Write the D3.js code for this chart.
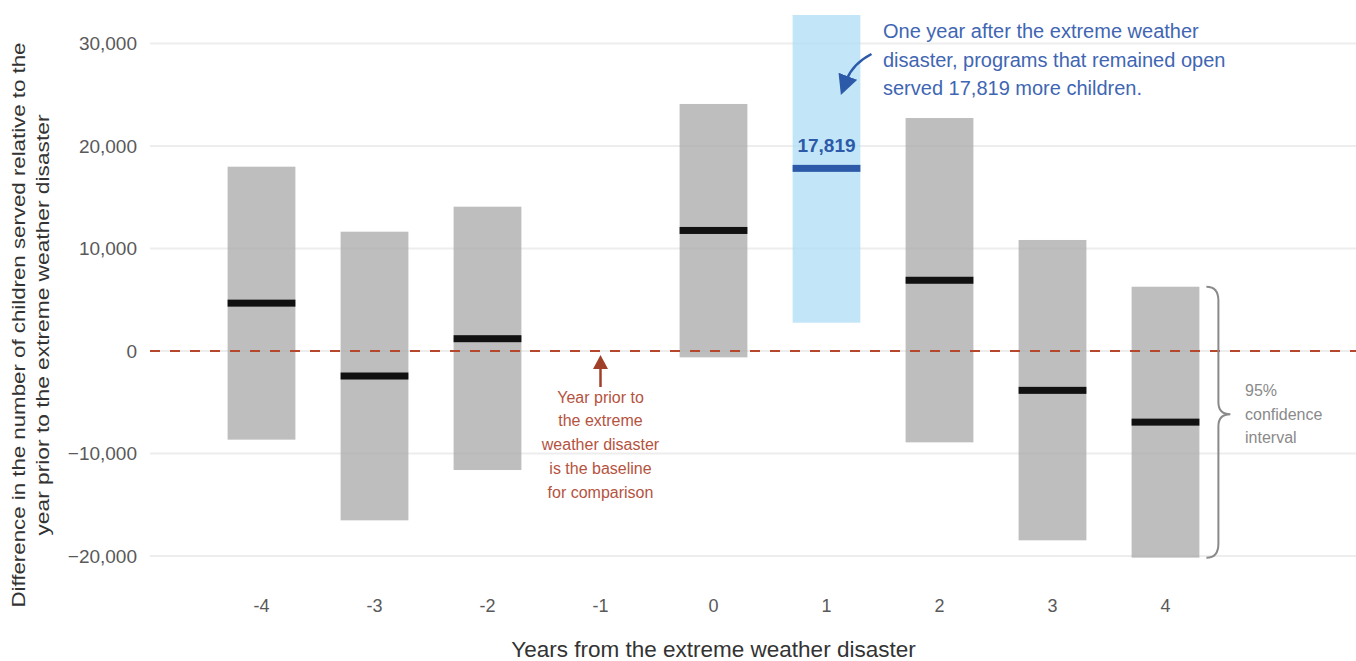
<!DOCTYPE html>
<html>
<head>
<meta charset="utf-8">
<script src="https://cdn.jsdelivr.net/npm/d3@7"></script>
<style>
  html, body { margin: 0; padding: 0; background: #fff; }
  svg { display: block; font-family: "Liberation Sans", Arial, sans-serif; }
</style>
</head>
<body>
<svg id="chart"></svg>
<script>
// Event-study estimates (children served vs. year prior to disaster)
const years = ['-4', '-3', '-2', '-1', '0', '1', '2', '3', '4'];
const estimates = [4670, -2440, 1200, null, 11760, 17819, 6900, -3840, -6940];
const lower = [-8650, -16520, -11610, null, -620, 2760, -8910, -18470, -20160];
const upper = [17980, 11640, 14080, null, 24100, 32780, 22730, 10830, 6270];
const yTicks = [-20000, -10000, 0, 10000, 20000, 30000];
const highlightYear = '1';

const width = 1356, height = 661;
const plotLeft = 150, plotRight = 1356;

const svg = d3.select('#chart')
  .attr('width', width)
  .attr('height', height)
  .attr('viewBox', `0 0 ${width} ${height}`);

const x = d3.scaleBand()
  .domain(years)
  .range([205, 1222])
  .paddingInner(0.4)
  .paddingOuter(0.2);

const y = d3.scaleLinear()
  .domain([-20000, 30000])
  .range([556, 43.5]);

const rows = years.map((yr, i) => ({
  year: yr, est: estimates[i], lo: lower[i], hi: upper[i]
})).filter(d => d.est !== null);

// gridlines
svg.append('g')
  .selectAll('line')
  .data(yTicks)
  .enter()
  .append('line')
  .attr('x1', plotLeft)
  .attr('x2', plotRight)
  .attr('y1', d => y(d))
  .attr('y2', d => y(d))
  .attr('stroke', '#ededed')
  .attr('stroke-width', 2);

// y tick labels
svg.append('g')
  .selectAll('text')
  .data(yTicks)
  .enter()
  .append('text')
  .attr('x', 137)
  .attr('y', d => y(d) + 6.5)
  .attr('text-anchor', 'end')
  .attr('font-size', 19)
  .attr('fill', '#595959')
  .text(d => d3.format(',')(d));

// x tick labels
svg.append('g')
  .selectAll('text')
  .data(years)
  .enter()
  .append('text')
  .attr('x', d => x(d) + x.bandwidth() / 2)
  .attr('y', 612)
  .attr('text-anchor', 'middle')
  .attr('font-size', 18)
  .attr('fill', '#595959')
  .text(d => d);

// confidence interval bars
svg.append('g')
  .selectAll('rect')
  .data(rows)
  .enter()
  .append('rect')
  .attr('x', d => x(d.year))
  .attr('width', x.bandwidth())
  .attr('y', d => y(d.hi))
  .attr('height', d => y(d.lo) - y(d.hi))
  .attr('fill', d => d.year === highlightYear ? 'rgb(173,222,245)' : '#a8a8a8')
  .attr('fill-opacity', 0.75);

// zero baseline
svg.append('line')
  .attr('x1', plotLeft)
  .attr('x2', plotRight)
  .attr('y1', y(0))
  .attr('y2', y(0))
  .attr('stroke', '#b5472d')
  .attr('stroke-width', 2.2)
  .attr('stroke-dasharray', '10,10');

// point estimates
svg.append('g')
  .selectAll('rect')
  .data(rows)
  .enter()
  .append('rect')
  .attr('x', d => x(d.year))
  .attr('width', x.bandwidth())
  .attr('y', d => y(d.est) - 3.5)
  .attr('height', 7)
  .attr('fill', d => d.year === highlightYear ? '#2c5aa8' : '#111');

// highlighted value label
const hl = rows.find(d => d.year === highlightYear);
const hx = x(hl.year) + x.bandwidth() / 2;
svg.append('text')
  .attr('x', hx)
  .attr('y', y(hl.est) - 16)
  .attr('text-anchor', 'middle')
  .attr('font-size', 19)
  .attr('font-weight', 'bold')
  .attr('fill', '#2c5aa8')
  .text(d3.format(',')(hl.est));

// blue annotation
const defs = svg.append('defs');
defs.append('marker')
  .attr('id', 'blueHead')
  .attr('viewBox', '0 0 10 10')
  .attr('refX', 2)
  .attr('refY', 5)
  .attr('markerWidth', 20)
  .attr('markerHeight', 20)
  .attr('markerUnits', 'userSpaceOnUse')
  .attr('orient', 'auto')
  .append('path')
  .attr('d', 'M0,0 L10,5 L0,10 Z')
  .attr('fill', '#2c5aa8');

svg.append('path')
  .attr('d', `M${hx + 45},54 Q${hx + 26},64 ${hx + 20},80`)
  .attr('fill', 'none')
  .attr('stroke', '#2c5aa8')
  .attr('stroke-width', 2.5)
  .attr('marker-end', 'url(#blueHead)');

const blueLines = [
  'One year after the extreme weather',
  'disaster, programs that remained open',
  'served 17,819 more children.'
];
svg.append('text')
  .attr('font-size', 20)
  .attr('fill', '#3f66b3')
  .selectAll('tspan')
  .data(blueLines)
  .enter()
  .append('tspan')
  .attr('x', 883)
  .attr('y', (d, i) => 38 + i * 28.5)
  .text(d => d);

// baseline annotation
const bx = x('-1') + x.bandwidth() / 2;
svg.append('line')
  .attr('x1', bx).attr('x2', bx)
  .attr('y1', 387).attr('y2', 368)
  .attr('stroke', '#a0402a')
  .attr('stroke-width', 2.5);
svg.append('path')
  .attr('d', `M${bx - 7.5},369 L${bx},355 L${bx + 7.5},369 Z`)
  .attr('fill', '#a0402a');

const redLines = ['Year prior to', 'the extreme', 'weather disaster', 'is the baseline', 'for comparison'];
svg.append('text')
  .attr('font-size', 16)
  .attr('fill', '#b5533f')
  .attr('text-anchor', 'middle')
  .selectAll('tspan')
  .data(redLines)
  .enter()
  .append('tspan')
  .attr('x', bx)
  .attr('y', (d, i) => 402.5 + i * 23.75)
  .text(d => d);

// confidence interval brace on the last bar
const last = rows[rows.length - 1];
const bL = x(last.year) + x.bandwidth() + 7;
const yt = y(last.hi), yb = y(last.lo), ym = y(last.est) - 8;
svg.append('path')
  .attr('d', `M${bL},${yt} Q${bL + 12},${yt} ${bL + 12},${yt + 14}
    L${bL + 12},${ym - 12} Q${bL + 12},${ym} ${bL + 24},${ym}
    Q${bL + 12},${ym} ${bL + 12},${ym + 12}
    L${bL + 12},${yb - 14} Q${bL + 12},${yb} ${bL},${yb}`)
  .attr('fill', 'none')
  .attr('stroke', '#8a8a8a')
  .attr('stroke-width', 2);

svg.append('text')
  .attr('font-size', 16)
  .attr('fill', '#8a8a8a')
  .selectAll('tspan')
  .data(['95%', 'confidence', 'interval'])
  .enter()
  .append('tspan')
  .attr('x', 1245)
  .attr('y', (d, i) => 396 + i * 23.5)
  .text(d => d);

// axis titles
svg.append('text')
  .attr('x', x('0') + x.bandwidth() / 2)
  .attr('y', 657)
  .attr('text-anchor', 'middle')
  .attr('font-size', 22.5)
  .attr('fill', '#333')
  .text('Years from the extreme weather disaster');

const yTitle = [
  { text: 'Difference in the number of children served relative to the', len: 565 },
  { text: 'year prior to the extreme weather disaster', len: 421 }
];
svg.append('text')
  .attr('transform', 'translate(0,325) rotate(-90)')
  .attr('text-anchor', 'middle')
  .attr('font-size', 18.5)
  .attr('fill', '#333')
  .selectAll('tspan')
  .data(yTitle)
  .enter()
  .append('tspan')
  .attr('x', 0)
  .attr('y', (d, i) => 25 + i * 24)
  .attr('textLength', d => d.len)
  .attr('lengthAdjust', 'spacingAndGlyphs')
  .text(d => d.text);
</script>
</body>
</html>
